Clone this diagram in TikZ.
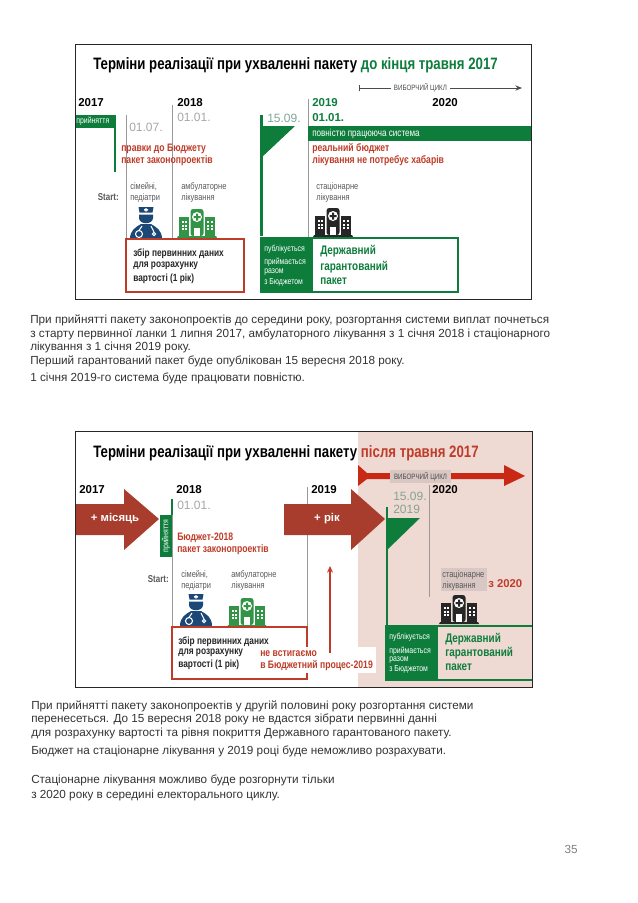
\documentclass[tikz,border=0pt]{standalone}
\usepackage{fontspec}
\setmainfont{Liberation Sans}
\newfontfamily\condfont[FakeStretch=0.8]{Liberation Sans}
\usepackage{tikz}
\usetikzlibrary{arrows.meta,calc}
\usepackage{xcolor}
\definecolor{cGreen}{RGB}{14,125,60}
\definecolor{cHosp}{RGB}{50,148,70}
\definecolor{cRed}{RGB}{190,60,40}
\definecolor{cArrow}{RGB}{168,60,45}
\definecolor{cCycle}{RGB}{200,40,20}
\definecolor{cPink}{RGB}{238,217,211}
\definecolor{cDoc}{RGB}{28,72,120}

\begin{document}
\begin{tikzpicture}[
    x=0.75pt, y=-0.75pt,
    lbl/.style={anchor=west,inner sep=0pt,font=\condfont\fontsize{7}{8}\selectfont},
    head/.style={lbl,font=\condfont\bfseries\fontsize{12.4}{14}\selectfont},
    year/.style={lbl,font=\bfseries\fontsize{8.6}{10}\selectfont},
    date/.style={lbl,text=gray!70,font=\fontsize{9}{10}\selectfont},
    redtxt/.style={lbl,text=cRed,font=\condfont\bfseries\fontsize{8.1}{9}\selectfont},
    graytxt/.style={lbl,text=black!65},
    boxtxt/.style={lbl,text=black!85,font=\condfont\bfseries\fontsize{7.8}{9}\selectfont},
    pubtxt/.style={lbl,text=white,font=\condfont\fontsize{6.5}{7}\selectfont},
    pkgtxt/.style={lbl,text=cGreen,font=\bfseries\condfont\fontsize{9.3}{10}\selectfont},
    bodytxt/.style={lbl,text=black!80,font=\fontsize{8.8}{10}\selectfont},
    tick/.style={draw=gray!80,line width=0.5pt},
    hospital/.pic={
      \fill[pic actions] (-20,0) -- (20,0) -- (19,-2) -- (-19,-2) -- cycle;
      \fill[pic actions] (-18,-2) rectangle (-8,-21);
      \fill[pic actions] (8,-2) rectangle (18,-21);
      \fill[pic actions,rounded corners=2pt] (-6.5,-2) rectangle (6.5,-29);
      \fill[white] (0,-21) circle (5);
      \fill[pic actions] (-1,-24.5) rectangle (1,-17.5) (-3.5,-22) rectangle (3.5,-20);
      \fill[white] (-3,-2) rectangle (3,-10);
      \foreach \wx in {-15.5,-12,10,13.5} {
        \foreach \wy in {-17,-13.5,-10} {
          \fill[white] (\wx,\wy) rectangle ++(2,2);
        }
      }
    },
    doctor/.pic={
      \fill[cDoc] (-7.5,0) -- (7.5,0) -- (6.5,5.5) -- (-6.5,5.5) -- cycle;
      \fill[white] (-0.7,1) rectangle (0.7,4.6) (-2,2.1) rectangle (2,3.5);
      \fill[cDoc] (-7,7.5) -- (7,7.5) -- (7,11) .. controls (7,18) and (-7,18) .. (-7,11) -- cycle;
      \fill[cDoc] (-16,32) .. controls (-16,23) and (-10,20) .. (-5,17) -- (5,17) .. controls (10,20) and (16,23) .. (16,32) -- cycle;
      \draw[white,line width=0.8pt] (-4,19) -- (-7,23.5) (-7,27) circle (3.5);
      \draw[white,line width=0.8pt] (5,19) -- (8,25) (8,27) circle (1.6);
    }
  ]
  \useasboundingbox (0,0) rectangle (638,903);
  % First chart
  \node[head] (title1) at (93,65) {Терміни реалізації при ухваленні пакету \textcolor{cGreen}{до кінця травня 2017}};
  % Years
  \node[year] (a17) at (78,103) {2017};
  \node[year] (a18) at (177,103) {2018};
  \node[year,text=cGreen] (a19) at (312,103) {2019};
  \node[year] (a20) at (432,103) {2020};
  % Dates
  \node[date] (d0107) at (129,127) {01.07.};
  \node[date] (d0101) at (177,117) {01.01.};
  \node[date,text=cGreen!45!gray!70] (d1509) at (267,118) {15.09.};
  \node[year,text=cGreen] (d0101b) at (312,118) {01.01.};
  % Time ticks
  \coordinate (t1a) at (126,115);
  \coordinate (t1b) at (126,239);
  \coordinate (t2a) at (172,105);
  \coordinate (t2b) at (172,239);
  \coordinate (t3a) at (308,99);
  \coordinate (t3b) at (308,237);
  \draw[tick] (t1a) -- (t1b);
  \draw[tick] (t2a) -- (t2b);
  \draw[tick] (t3a) -- (t3b);
  % Cycle line
  \node[lbl,fill=white,inner xsep=2pt,text=black!70,font=\condfont\fontsize{5.8}{7}\selectfont] (cyc1) at (391,88) {ВИБОРЧИЙ ЦИКЛ};
  \coordinate (cyc1s) at (359,88);
  \coordinate (cyc1e) at (522,88);
  \draw[black!70,line width=0.7pt,{Bar[width=5pt]}-] (cyc1s) -- (cyc1);
  \draw[black!70,line width=0.7pt,-{Stealth[length=5pt,width=4pt]}] (cyc1) -- (cyc1e);
  % Adoption banner
  \fill[cGreen] (75,115) rectangle (115,128);
  \node[pubtxt] (adopt) at (76,121.5) {прийняття};
  \fill[cGreen] (114,115) rectangle (116,172);
  \node[redtxt] (r1) at (121,149) {правки до Бюджету};
  \node[redtxt] (r2) at (121,161) {пакет законопроектів};
  % Flag
  \fill[cGreen] (260,115) rectangle (262.5,236);
  \fill[cGreen] (261,126) -- (295,126) -- (261,158) -- cycle;
  % System banner
  \fill[cGreen] (308,126) rectangle (531,141);
  \node[lbl,text=white,font=\condfont\fontsize{7.6}{9}\selectfont] (sys) at (312,133.5) {повністю працююча система};
  \node[redtxt] (r3) at (312,149) {реальний бюджет};
  \node[redtxt] (r4) at (312,161) {лікування не потребує хабарів};
  % Start row
  \node[graytxt,anchor=east,font=\condfont\bfseries\fontsize{7.5}{8}\selectfont] (st1) at (119,197) {Start:};
  \node[graytxt] (s1) at (130,187) {сімейні,};
  \node[graytxt] (s2) at (130,198) {педіатри};
  \node[graytxt] (s3) at (181,187) {амбулаторне};
  \node[graytxt] (s4) at (181,198) {лікування};
  \node[graytxt] (s5) at (316,187) {стаціонарне};
  \node[graytxt] (s6) at (316,198) {лікування};
  \pic (doc1) at (146,207) {doctor};
  \pic[fill=cHosp] (hos1) at (197,238) {hospital};
  \pic[fill=black!85] (hos2) at (333,237) {hospital};
  % Data box
  \draw[cRed,line width=0.9pt,fill=white] (126,239) rectangle (244,292);
  \node[boxtxt] (b1) at (133,254) {збір первинних даних};
  \node[boxtxt] (b2) at (133,266) {для розрахунку};
  \node[boxtxt] (b3) at (133,279) {вартості (1 рік)};
  % Package box
  \draw[cGreen,line width=1.6pt,fill=white] (261,238) rectangle (458,292);
  \fill[cGreen] (260,237) rectangle (313,293);
  \node[pubtxt] (p1) at (264,249) {публікується};
  \node[pubtxt] (p2) at (264,262) {приймається};
  \node[pubtxt] (p3) at (264,272) {разом};
  \node[pubtxt] (p4) at (264,282) {з Бюджетом};
  \node[pkgtxt] (g1) at (320,251) {Державний};
  \node[pkgtxt] (g2) at (320,267) {гарантований};
  \node[pkgtxt] (g3) at (320,281) {пакет};
  \draw[black!85,line width=0.7pt] (75,44) rectangle (531,299);
  % First text
  \node[bodytxt] (x1) at (30,320) {При прийнятті пакету законопроектів до середини року, розгортання системи виплат почнеться};
  \node[bodytxt] (x2) at (30,334) {з старту первинної ланки 1 липня 2017, амбулаторного лікування з 1 січня 2018 і стаціонарного};
  \node[bodytxt] (x3) at (30,347) {лікування з 1 січня 2019 року.};
  \node[bodytxt] (x4) at (30,361) {Перший гарантований пакет буде опублікован 15 вересня 2018 року.};
  \node[bodytxt] (x5) at (30,378) {1 січня 2019-го система буде працювати повністю.};
  % Second chart
  \fill[cPink] (358,431) rectangle (532,687);
  \node[head] (title2) at (93,453) {Терміни реалізації при ухваленні пакету \textcolor{cRed}{після травня 2017}};
  % Years
  \node[year] (c17) at (79,490) {2017};
  \node[year] (c18) at (176,490) {2018};
  \node[year] (c19) at (311,490) {2019};
  \node[year] (c20) at (432,490) {2020};
  % Time ticks
  \coordinate (u2a) at (172,515);
  \coordinate (u2b) at (172,627);
  \coordinate (u3a) at (307,487);
  \coordinate (u3b) at (307,627);
  \coordinate (u4a) at (429,485);
  \coordinate (u4b) at (429,597);
  \draw[tick] (u2a) -- (u2b);
  \draw[tick] (u3a) -- (u3b);
  \draw[tick] (u4a) -- (u4b);
  % Big arrows
  \fill[cArrow] (75,504) -- (124,504) -- (124,489) -- (159,519) -- (124,550) -- (124,535) -- (75,535) -- cycle;
  \node[anchor=center,inner sep=0pt,text=white,font=\bfseries\fontsize{8.5}{10}\selectfont] (delay1) at (115,519) {+ місяць};
  \fill[cArrow] (284,504) -- (351,504) -- (351,489) -- (385,519) -- (351,550) -- (351,535) -- (284,535) -- cycle;
  \node[anchor=center,inner sep=0pt,text=white,font=\bfseries\fontsize{8.5}{10}\selectfont] (delay2) at (327,519) {+ рік};
  % Cycle arrow
  \fill[cCycle] (358,465) -- (367,473) -- (504,473) -- (504,465) -- (525,476) -- (504,486) -- (504,479) -- (367,479) -- (358,486) -- cycle;
  \node[fill=cPink!80!gray,inner xsep=3pt,inner ysep=1.5pt,text=black!70,font=\condfont\fontsize{5.8}{7}\selectfont] (cyc2) at (420.5,476.5) {ВИБОРЧИЙ ЦИКЛ};
  % Adoption and dates
  \fill[cGreen] (171,499) rectangle (173,515);
  \fill[cGreen] (160,515) rectangle (172,557);
  \node[pubtxt,anchor=center,rotate=90] (adopt2) at (166,536) {прийняття};
  \node[date] (e0101) at (177,505) {01.01.};
  \node[redtxt] (r5) at (177,538) {Бюджет-2018};
  \node[redtxt] (r6) at (177,550) {пакет законопроектів};
  \node[date,text=cGreen!45!gray!70] (e1509) at (393,496) {15.09.};
  \node[date,text=cGreen!45!gray!70] (e2019) at (393,509) {2019};
  % Flag
  \fill[cGreen] (385.5,507) rectangle (388,626);
  \fill[cGreen] (387,518) -- (420,518) -- (387,550) -- cycle;
  % Start row
  \node[graytxt,anchor=east,font=\condfont\bfseries\fontsize{7.5}{8}\selectfont] (st2) at (169,579) {Start:};
  \node[graytxt] (v1) at (181,575) {сімейні,};
  \node[graytxt] (v2) at (181,586) {педіатри};
  \node[graytxt] (v3) at (231,575) {амбулаторне};
  \node[graytxt] (v4) at (231,586) {лікування};
  \fill[cPink!80!gray] (441,568) rectangle (487,591);
  \node[graytxt] (v5) at (442,575) {стаціонарне};
  \node[graytxt] (v6) at (442,586) {лікування};
  \node[redtxt,font=\bfseries\fontsize{8.5}{10}\selectfont] (v7) at (488,584) {з 2020};
  \pic (doc2) at (196,594) {doctor};
  \pic[fill=cHosp] (hos3) at (247,627) {hospital};
  \pic[fill=black!85] (hos4) at (459,624) {hospital};
  % Data box
  \draw[cRed,line width=0.9pt] (172,627) rectangle (307,679);
  \node[boxtxt] (b4) at (178,642) {збір первинних даних};
  \node[boxtxt] (b5) at (178,653) {для розрахунку};
  \node[boxtxt] (b6) at (178,665) {вартості (1 рік)};
  % Late label
  \fill[white] (257,647) rectangle (376,673);
  \node[redtxt] (late1) at (260,654) {не встигаємо};
  \node[redtxt] (late2) at (260,666) {в Бюджетний процес-2019};
  \coordinate (late3) at (330,653);
  \coordinate (late4) at (330,566);
  \draw[cRed,line width=0.9pt,-{Stealth[length=5pt,width=4.5pt]}] (late3) -- (late4);
  % Package box
  \draw[cGreen,line width=1.2pt] (532,626) -- (386,626) -- (386,680) -- (532,680);
  \fill[cGreen] (385,626) rectangle (438,680);
  \node[pubtxt] (q1) at (389,637) {публікується};
  \node[pubtxt] (q2) at (389,651) {приймається};
  \node[pubtxt] (q3) at (389,660) {разом};
  \node[pubtxt] (q4) at (389,669) {з Бюджетом};
  \node[pkgtxt] (h1) at (445,639) {Державний};
  \node[pkgtxt] (h2) at (445,653) {гарантований};
  \node[pkgtxt] (h3) at (445,667) {пакет};
  \draw[black!85,line width=0.7pt] (75,431) rectangle (532,687);
  % Second text
  \node[bodytxt] (y1) at (31,706) {При прийнятті пакету законопроектів у другій половині року розгортання системи};
  \node[bodytxt] (y2) at (31,719) {перенесеться. До 15 вересня 2018 року не вдастся зібрати первинні данні};
  \node[bodytxt] (y3) at (31,733) {для розрахунку вартості та рівня покриття Державного гарантованого пакету.};
  \node[bodytxt] (y4) at (31,751) {Бюджет на стаціонарне лікування у 2019 році буде неможливо розрахувати.};
  \node[bodytxt] (y5) at (31,780) {Стаціонарне лікування можливо буде розгорнути тільки};
  \node[bodytxt] (y6) at (31,795) {з 2020 року в середині електорального циклу.};
  \node[bodytxt,anchor=east,text=gray] (pg) at (578,849) {35};
\end{tikzpicture}
\end{document}
